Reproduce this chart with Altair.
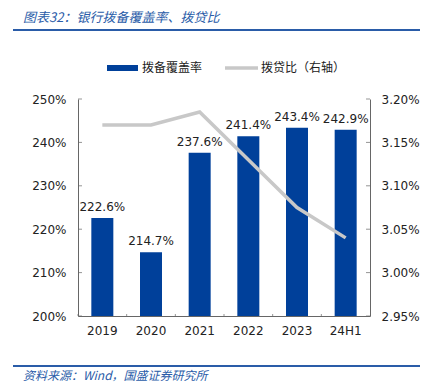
import altair as alt
import pandas as pd

# ---- data ----
years = ["2019", "2020", "2021", "2022", "2023", "24H1"]
coverage = [222.6, 214.7, 237.6, 241.4, 243.4, 242.9]          # 拨备覆盖率 (%)
loan_ratio = [3.17, 3.17, 3.185, 3.13, 3.075, 3.04]             # 拨贷比 (%), right axis
left_ticks = [200, 210, 220, 230, 240, 250]
right_ticks = [2.95, 3.00, 3.05, 3.10, 3.15, 3.20]

title_text = ["图表32：银行拨备覆盖率、拨贷比"]
source_text = ["资料来源：Wind，国盛证券研究所"]
legend_bar = ["拨备覆盖率"]
legend_line = ["拨贷比（右轴）"]

df = pd.DataFrame({"year": years, "cov": coverage, "ratio": loan_ratio})
lt = pd.DataFrame({"v": left_ticks})
rt = pd.DataFrame({"v": right_ticks})
yt = pd.DataFrame({"year": years})

FONT = "DejaVu Sans"
CJK = "Noto Sans CJK SC"
BLUE = "#00409a"
GRAY = "#c8c8c8"
AXC = "#666666"
TXT = "#222222"
HEAD = "#2a5ca8"

W, H = 292, 217

xscale = alt.Scale(domain=years, paddingInner=0, paddingOuter=0)
lscale = alt.Scale(domain=[200, 250], nice=False, zero=False)
rscale = alt.Scale(domain=[2.95, 3.20], nice=False, zero=False)

XAX = alt.Axis(labelAngle=0, ticks=False, tickSize=0, labelPadding=9,
               labelFont=FONT, labelFontSize=12, labelColor=TXT,
               domainColor=AXC, domainWidth=1, grid=False)
LAX = alt.Axis(values=left_ticks, ticks=False, tickSize=0, labelPadding=12,
               labelExpr="datum.value + '%'", labelFont=FONT, labelFontSize=12,
               labelColor=TXT, domainColor=AXC, grid=False, orient="left")
RAX = alt.Axis(values=right_ticks, ticks=False, tickSize=0, labelPadding=11,
               labelExpr="format(datum.value, '.2f') + '%'", labelFont=FONT,
               labelFontSize=12, labelColor=TXT, domainColor=AXC, grid=False,
               orient="right")

def X(**kw):
    return alt.X("year:N", sort=years, title=None, scale=xscale, axis=XAX, **kw)

bars = alt.Chart(df).mark_bar(size=22, color=BLUE).encode(
    x=X(),
    y=alt.Y("cov:Q", title=None, scale=lscale, axis=LAX),
    y2=alt.datum(200),
)

labels = alt.Chart(df).transform_calculate(
    lab="format(datum.cov, '.1f') + '%'"
).mark_text(baseline="bottom", dy=-4, font=FONT, fontSize=12, color=TXT).encode(
    x=X(),
    y=alt.Y("cov:Q", title=None, scale=lscale, axis=LAX),
    text="lab:N",
)

lticks = alt.Chart(lt).mark_tick(size=4, thickness=1, color=AXC, xOffset=2).encode(
    y=alt.Y("v:Q", title=None, scale=lscale, axis=LAX),
    x=alt.value(0),
)

xticks = alt.Chart(yt).mark_tick(size=4, thickness=1, color=AXC, yOffset=-2).encode(
    x=X(bandPosition=0),
    y=alt.value(H),
)

left = alt.layer(bars, labels, lticks, xticks)

line = alt.Chart(df).mark_line(color=GRAY, strokeWidth=3.5).encode(
    x=X(),
    y=alt.Y("ratio:Q", title=None, scale=rscale, axis=RAX),
)

rticks = alt.Chart(rt).mark_tick(size=4, thickness=1, color=AXC, xOffset=-2).encode(
    y=alt.Y("v:Q", title=None, scale=rscale, axis=RAX),
    x=alt.value(W),
)

right = alt.layer(line, rticks)

# ---- decorations (title, legend, source) ----
def txt(data, x, y, **kw):
    return alt.Chart(pd.DataFrame({"t": data})).mark_text(align="left", baseline="middle", **kw).encode(
        x=alt.value(x), y=alt.value(y), text="t:N")

title = txt(title_text, -55, -81, font=CJK, fontSize=13, fontStyle="italic", color=HEAD)
head_rule = alt.Chart(pd.DataFrame({"a": [0]})).mark_rule(color=HEAD, strokeWidth=2).encode(
    x=alt.value(-65), x2=alt.value(351), y=alt.value(-69))
foot_rule = alt.Chart(pd.DataFrame({"a": [0]})).mark_rule(color=HEAD, strokeWidth=2).encode(
    x=alt.value(-65), x2=alt.value(351), y=alt.value(267))
source = txt(source_text, -55, 277, font=CJK, fontSize=12, fontStyle="italic", color=HEAD)

leg_rect = alt.Chart(pd.DataFrame({"a": [0]})).mark_rect(color=BLUE).encode(
    x=alt.value(29), x2=alt.value(60), y=alt.value(-34), y2=alt.value(-28))
leg_t1 = txt(legend_bar, 64, -31, font=CJK, fontSize=12, color=TXT)
leg_line = alt.Chart(pd.DataFrame({"a": [0]})).mark_rule(color=GRAY, strokeWidth=3.5).encode(
    x=alt.value(147), x2=alt.value(180), y=alt.value(-31))
leg_t2 = txt(legend_line, 183, -31, font=CJK, fontSize=12, color=TXT)

chart = alt.layer(
    left, right, title, head_rule, foot_rule, source, leg_rect, leg_t1, leg_line, leg_t2
).resolve_scale(y="independent").properties(
    width=W, height=H,
    autosize=alt.AutoSizeParams(type="none"),
    padding={"left": 70, "top": 91, "right": 50, "bottom": 68},
).configure_view(stroke=None)

chart.save("out.html", embed_options={"renderer": "svg", "actions": False})
